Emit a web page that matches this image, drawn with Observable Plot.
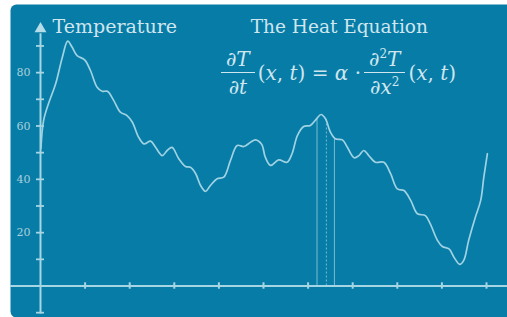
<!DOCTYPE html>
<html>
<head>
<meta charset="utf-8">
<script src="https://cdn.jsdelivr.net/npm/d3@7"></script>
<script src="https://cdn.jsdelivr.net/npm/@observablehq/plot@0.6"></script>
<style>
  html, body { margin: 0; padding: 0; background: #ffffff; }
  #wrap { position: relative; width: 507px; height: 317px; overflow: hidden; }
  #wrap svg { max-width: none !important; }
  #eq {
    position: absolute; left: 221px; top: 49px;
    display: flex; align-items: center;
    font-family: "DejaVu Serif"; font-size: 20px; color: #cfe6ef;
    white-space: nowrap; line-height: 1;
  }
  .frac { display: inline-flex; flex-direction: column; align-items: center; }
  .frac .num { border-bottom: 1.4px solid #cfe6ef; padding: 0 5px 3px 5px; }
  .frac .den { padding-top: 4px; }
  #eq sup { font-size: 12px; vertical-align: 8px; line-height: 0; }
  #eq i { font-style: italic; }
  .mid { padding: 0 3px; }
</style>
</head>
<body>
<div id="wrap">
  <div id="eq">
    <span class="frac"><span class="num">∂<i>T</i></span><span class="den">∂<i>t</i></span></span>
    <span class="mid">(<i>x</i>, <i>t</i>) = <i>α</i> · </span>
    <span class="frac"><span class="num">∂<sup>2</sup><i>T</i></span><span class="den">∂<i>x</i><sup>2</sup></span></span>
    <span class="mid">(<i>x</i>, <i>t</i>)</span>
  </div>
</div>
<script>
// Curve samples (position along x axis, temperature)
const xs = [0.01, 0.07, 0.19, 0.34, 0.49, 0.61, 0.71, 0.82, 0.99, 1.12, 1.27, 1.38, 1.50, 1.64, 1.79, 1.94, 2.06, 2.20, 2.32, 2.47, 2.58, 2.73, 2.84, 2.95, 3.10, 3.25, 3.36, 3.48, 3.59, 3.70, 3.81, 3.96, 4.11, 4.26, 4.41, 4.56, 4.71, 4.82, 4.96, 5.04, 5.16, 5.34, 5.53, 5.64, 5.76, 5.90, 6.05, 6.19, 6.29, 6.39, 6.50, 6.61, 6.77, 6.88, 7.03, 7.14, 7.25, 7.36, 7.51, 7.70, 7.85, 8.00, 8.15, 8.30, 8.45, 8.63, 8.74, 8.90, 9.01, 9.16, 9.27, 9.40, 9.49, 9.60, 9.75, 9.87, 9.94, 10.02];
const temps = [51.6, 62.1, 68.9, 75.8, 85.8, 91.8, 89.5, 86.4, 84.8, 80.8, 74.5, 73.0, 73.0, 69.6, 65.2, 63.9, 61.4, 55.8, 53.3, 54.3, 52.0, 48.9, 50.8, 52.0, 47.7, 44.8, 44.5, 42.1, 37.7, 35.5, 37.7, 40.2, 40.8, 47.1, 52.7, 52.3, 53.9, 54.8, 53.1, 48.3, 45.2, 47.3, 46.4, 49.6, 56.4, 59.8, 60.2, 62.7, 64.3, 62.7, 57.7, 55.2, 54.8, 52.0, 48.1, 48.9, 50.8, 48.9, 46.4, 46.4, 42.1, 36.4, 35.8, 32.1, 27.1, 26.4, 23.3, 17.1, 14.8, 13.9, 10.8, 8.1, 9.6, 17.1, 25.8, 32.1, 40.8, 49.6];

// Marker lines under the peak
const markerX = [6.20, 6.41, 6.59];
const markerT = [62.8, 62.3, 55.5];
const markerDash = ["none", "2,2", "none"];

// Axis ticks
const yTicks = [-10, 10, 20, 30, 40, 50, 60, 70, 80, 90];
const yLabels = [20, 40, 60, 80];
const xTicks = [1, 2, 3, 4, 5, 6, 7, 8, 9, 10];

const yAxisTop = 94.6;
const arrowY = 96.4;

const bg = "#077ca6";
const lineColor = "#9fd2e3";
const axisColor = "#a6d5e4";
const textColor = "#cfe6ef";
const serif = "DejaVu Serif";

const curve = xs.map((x, i) => ({x, t: temps[i]}));
const markers = markerX.map((x, i) => ({x, t: markerT[i], dash: markerDash[i]}));

const chart = Plot.plot({
  width: 517,
  height: 317,
  marginLeft: 10,
  marginTop: 4,
  marginRight: 0,
  marginBottom: 0,
  x: {domain: [0, 10], range: [40, 486], axis: null},
  y: {domain: [0, 100], range: [285.5, 18.8], axis: null},
  style: {background: "#ffffff", fontFamily: serif, maxWidth: "none"},
  marks: [
    Plot.frame({fill: bg, stroke: null, rx: 6}),
    // axes
    Plot.ruleY([0], {stroke: axisColor, strokeWidth: 2}),
    Plot.ruleX([0], {y1: -10.5, y2: yAxisTop, stroke: axisColor, strokeWidth: 2}),
    Plot.dot([arrowY], {x: () => 0, y: d => d, symbol: "triangle", r: 4.4, fill: "#b4dde9", stroke: null}),
    Plot.ruleY(yTicks, {y: d => d, x1: -0.09, x2: 0.09, stroke: axisColor, strokeWidth: 1.8}),
    Plot.ruleX(xTicks, {x: d => d, y1: -1.2, y2: 1.2, stroke: axisColor, strokeWidth: 2}),
    Plot.text(yLabels, {x: -0.38, y: d => d, text: d => String(d), fill: "#a9d0dd", fontSize: 11, fontFamily: serif}),
    // markers
    ...markers.map(m => Plot.ruleX([m], {x: "x", y1: 0, y2: "t", stroke: "#9fd2e3", strokeWidth: 1, strokeOpacity: 0.75, strokeDasharray: m.dash})),
    // curve
    Plot.line(curve, {x: "x", y: "t", curve: "catmull-rom", stroke: lineColor, strokeWidth: 1.7}),
    // titles
    Plot.text(["Temperature"], {x: 0.27, y: 94.7, text: d => d, textAnchor: "start", lineAnchor: "bottom", fill: textColor, fontSize: 19, fontFamily: serif}),
    Plot.text(["The Heat Equation"], {x: 6.7, y: 95.0, text: d => d, textAnchor: "middle", lineAnchor: "bottom", fill: textColor, fontSize: 18.5, fontFamily: serif})
  ]
});
chart.style.maxWidth = "none";
document.getElementById("wrap").prepend(chart);
</script>
</body>
</html>
